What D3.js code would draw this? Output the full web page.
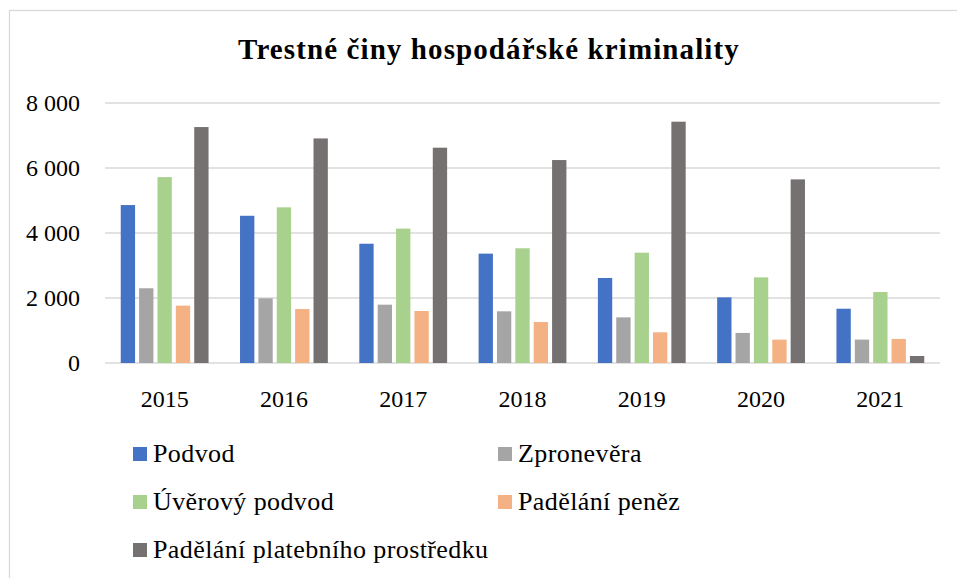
<!DOCTYPE html>
<html>
<head>
<meta charset="utf-8">
<script src="https://cdn.jsdelivr.net/npm/d3@7"></script>
<style>
  body { margin: 0; background: #fff; }
  svg text { font-family: "Palatino Linotype", "Book Antiqua", Palatino, "Liberation Serif", serif; fill: #000; }
</style>
</head>
<body>
<div id="chart"></div>
<script>
const years = ["2015", "2016", "2017", "2018", "2019", "2020", "2021"];
const seriesNames = ["Podvod", "Zpronevěra", "Úvěrový podvod", "Padělání peněz", "Padělání platebního prostředku"];
const podvod = [4860, 4530, 3670, 3365, 2615, 2020, 1670];
const zpronevera = [2300, 1990, 1795, 1590, 1405, 925, 720];
const uverovyPodvod = [5720, 4790, 4135, 3530, 3395, 2635, 2185];
const padelaniPenez = [1765, 1660, 1600, 1260, 945, 720, 740];
const padelaniPlatebniho = [7260, 6910, 6625, 6245, 7425, 5650, 215];
const yTicks = [0, 2000, 4000, 6000, 8000];
const colors = ["#4472C4", "#A5A5A5", "#A9D18E", "#F4B183", "#767171"];

const allSeries = [podvod, zpronevera, uverovyPodvod, padelaniPenez, padelaniPlatebniho];

const W = 957, H = 578;
const dim = { left: 105, right: 940, top: 103, bottom: 363 };

const svg = d3.select("#chart").append("svg")
  .attr("width", W)
  .attr("height", H);

// chart frame
svg.append("rect")
  .attr("x", 9.5).attr("y", 10.5)
  .attr("width", 1000).attr("height", 700)
  .attr("fill", "none")
  .attr("stroke", "#d9d9d9")
  .attr("stroke-width", 1.3);

svg.append("text")
  .attr("x", 489)
  .attr("y", 59)
  .attr("text-anchor", "middle")
  .style("font-weight", "bold")
  .style("font-size", "29px")
  .style("letter-spacing", "1.1px")
  .text("Trestné činy hospodářské kriminality");

const x0 = d3.scaleBand()
  .domain(years)
  .range([dim.left, dim.right])
  .paddingInner(0.23)
  .paddingOuter(0.115);

const x1 = d3.scaleBand()
  .domain(seriesNames)
  .range([0, x0.bandwidth()])
  .paddingInner(0.22)
  .paddingOuter(0.11);

const y = d3.scaleLinear()
  .domain([0, 8000])
  .range([dim.bottom, dim.top]);

const locale = d3.formatLocale({ decimal: ",", thousands: " ", grouping: [3], currency: ["", ""] });
const fmt = locale.format(",");

// gridlines
svg.append("g")
  .selectAll("line")
  .data(yTicks)
  .enter()
  .append("line")
  .attr("x1", dim.left)
  .attr("x2", dim.right)
  .attr("y1", d => y(d))
  .attr("y2", d => y(d))
  .attr("stroke", "#d9d9d9")
  .attr("stroke-width", 1.5);

// y labels
svg.append("g")
  .selectAll("text")
  .data(yTicks)
  .enter()
  .append("text")
  .attr("x", 80)
  .attr("y", d => y(d))
  .attr("dy", "0.35em")
  .attr("text-anchor", "end")
  .style("font-size", "24px")
  .text(d => fmt(d));

// bars
const groups = svg.append("g")
  .selectAll("g")
  .data(years)
  .enter()
  .append("g")
  .attr("transform", d => "translate(" + x0(d) + ",0)");

groups.selectAll("rect")
  .data((d, i) => seriesNames.map((s, j) => ({ name: s, value: allSeries[j][i], idx: j })))
  .enter()
  .append("rect")
  .attr("x", d => x1(d.name))
  .attr("y", d => y(d.value))
  .attr("width", x1.bandwidth())
  .attr("height", d => y(0) - y(d.value))
  .style("fill", d => colors[d.idx]);

// x labels
svg.append("g")
  .selectAll("text")
  .data(years)
  .enter()
  .append("text")
  .attr("x", d => x0(d) + x0.bandwidth() / 2)
  .attr("y", 407)
  .attr("text-anchor", "middle")
  .style("font-size", "24px")
  .text(d => d);

// legend
const legendPos = [[133, 447], [498, 447], [133, 495], [498, 495], [133, 543]];
const legend = svg.append("g")
  .selectAll("g")
  .data(seriesNames)
  .enter()
  .append("g")
  .attr("transform", (d, i) => "translate(" + legendPos[i][0] + "," + legendPos[i][1] + ")");

legend.append("rect")
  .attr("width", 14)
  .attr("height", 14)
  .style("fill", (d, i) => colors[i]);

legend.append("text")
  .attr("x", 20)
  .attr("y", 15)
  .style("font-size", "26px")
  .style("letter-spacing", "0.4px")
  .text(d => d);
</script>
</body>
</html>
